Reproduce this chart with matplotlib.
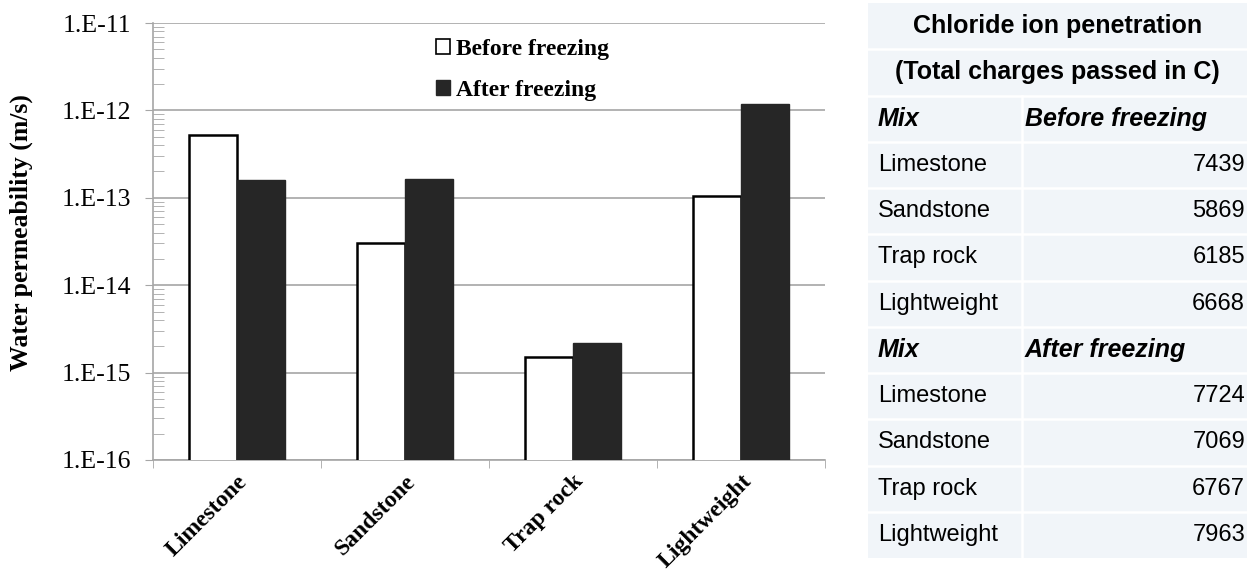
import numpy as np
import matplotlib.pyplot as plt
from matplotlib.patches import Patch, Rectangle
from matplotlib.ticker import LogLocator, FuncFormatter, NullFormatter, FixedLocator

# Data
mixes = ['Limestone', 'Sandstone', 'Trap rock', 'Lightweight']
perm_before = [5.2e-13, 3.0e-14, 1.5e-15, 1.05e-13]
perm_after = [1.6e-13, 1.65e-13, 2.2e-15, 1.17e-12]
series_labels = ['Before freezing', 'After freezing']

# chloride ion penetration table (total charges passed in C)
table_title = ['Chloride ion penetration', '(Total charges passed in C)']
charge_before = [7439, 5869, 6185, 6668]
charge_after = [7724, 7069, 6767, 7963]

serif = ['Liberation Serif', 'DejaVu Serif']
sans = ['Liberation Sans', 'DejaVu Sans']
grid_col = '#a6a6a6'
dark = '#262626'

fig = plt.figure(figsize=(12.57, 5.76), dpi=100)
W, H = 1257, 576

# --- bar chart ---
ax = fig.add_axes([153 / W, 1 - 460 / H, 672 / W, 437 / H])
x = np.arange(len(mixes))
bw = 0.286
ax.bar(x - bw / 2, perm_before, width=bw, color='white', edgecolor='black', linewidth=1.8, zorder=3)
ax.bar(x + bw / 2, perm_after, width=bw, color=dark, edgecolor=dark, linewidth=1.0, zorder=3)

ax.set_yscale('log')
ax.set_ylim(1e-16, 1e-11)
ax.set_xlim(-0.5, len(mixes) - 0.5)

ax.yaxis.set_major_locator(FixedLocator([10.0 ** e for e in range(-16, -10)]))
ax.yaxis.set_major_formatter(FuncFormatter(lambda v, p: '1.E%d' % int(round(np.log10(v)))))
ax.yaxis.set_minor_locator(LogLocator(base=10, subs=np.arange(2, 10), numticks=10))
ax.yaxis.set_minor_formatter(NullFormatter())
ax.tick_params(axis='y', which='major', direction='out', length=6, color=grid_col, pad=10)
ax.tick_params(axis='y', which='minor', direction='in', length=8, color=grid_col)
for lab in ax.get_yticklabels():
    lab.set_family(serif)
    lab.set_fontsize(18.5)

ax.set_xticks(x)
ax.set_xticklabels(mixes, rotation=45, ha='right', rotation_mode='anchor',
                   family=serif, fontweight='bold', fontsize=17)
ax.tick_params(axis='x', which='major', length=0, pad=8)
ax.xaxis.set_minor_locator(FixedLocator(np.arange(len(mixes) + 1) - 0.5))
ax.tick_params(axis='x', which='minor', direction='out', length=6, color=grid_col)

ax.grid(axis='y', which='major', color=grid_col, linewidth=1.2, zorder=0)
for s in ['top', 'right']:
    ax.spines[s].set_visible(False)
for s in ['left', 'bottom']:
    ax.spines[s].set_color(grid_col)
    ax.spines[s].set_linewidth(1.2)

ax.set_ylabel('Water permeability (m/s)', family=serif, fontweight='bold', fontsize=18.5)
ax.yaxis.set_label_coords(-0.178, 0.52)

handles = [Patch(facecolor='white', edgecolor='black', linewidth=1.2),
           Patch(facecolor=dark, edgecolor=dark)]
ax.legend(handles, series_labels, loc='upper left', bbox_to_anchor=(0.39, 1.012),
          frameon=False, prop={'family': serif, 'weight': 'bold', 'size': 17},
          handlelength=0.6, handleheight=0.6, handletextpad=0.25, labelspacing=0.85)

# --- table ---
tab = fig.add_axes([868 / W, 1 - 558 / H, 379 / W, 555 / H])
n_rows = len(table_title) + 2 * (len(mixes) + 1)
tab.set_xlim(0, 1)
tab.set_ylim(n_rows, 0)
tab.axis('off')
tab.add_patch(Rectangle((0, 0), 1, n_rows, facecolor='#f1f5f9', edgecolor='none'))
for r in range(1, n_rows):
    tab.axhline(r, color='white', linewidth=1.8)
col_split = 0.406
tab.plot([col_split, col_split], [len(table_title), n_rows], color='white', linewidth=1.8)

row = 0
for t in table_title:
    tab.text(0.5, row + 0.5, t, ha='center', va='center', family=sans,
             fontweight='bold', fontsize=18)
    row += 1
for head, vals in [('Before freezing', charge_before), ('After freezing', charge_after)]:
    tab.text(0.026, row + 0.5, 'Mix', ha='left', va='center', family=sans,
             fontweight='bold', style='italic', fontsize=18)
    tab.text(0.414, row + 0.5, head, ha='left', va='center', family=sans,
             fontweight='bold', style='italic', fontsize=18)
    row += 1
    for name, v in zip(mixes, vals):
        tab.text(0.026, row + 0.5, name, ha='left', va='center', family=sans, fontsize=17)
        tab.text(0.995, row + 0.5, str(v), ha='right', va='center', family=sans, fontsize=17)
        row += 1

fig.savefig('out.png', dpi=100)
